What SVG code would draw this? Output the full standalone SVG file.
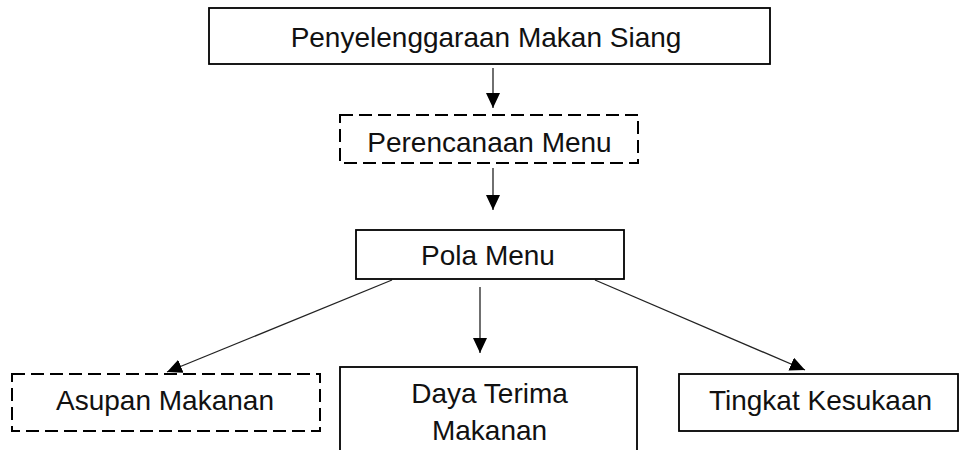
<svg xmlns="http://www.w3.org/2000/svg" width="960" height="450" viewBox="0 0 960 450">
<defs>
<marker id="ah" markerUnits="userSpaceOnUse" markerWidth="16" markerHeight="16" viewBox="0 0 16 16" refX="15" refY="7" orient="auto">
<path d="M0,0 L15,7 L0,14 Z" fill="#000"/>
</marker>
</defs>
<style>
.box{fill:#fff;stroke:#000;stroke-width:1.8}
.dash{fill:#fff;stroke:#000;stroke-width:2;stroke-dasharray:13 6}
.lbl{font-family:"Liberation Sans",Arial,sans-serif;font-size:28px;fill:#111;text-anchor:middle}
.con{stroke:#222;stroke-width:1.3;fill:none;marker-end:url(#ah)}
</style>
<rect width="960" height="450" fill="#fff"/>
<g id="connectors">
<line class="con" x1="493" y1="68" x2="493" y2="108"/>
<line class="con" x1="493" y1="168" x2="493" y2="210"/>
<line class="con" x1="392" y1="280" x2="167" y2="372"/>
<line class="con" x1="480" y1="287" x2="480" y2="353"/>
<line class="con" x1="595" y1="280" x2="805" y2="370"/>
</g>
<g id="node-penyelenggaraan">
<rect class="box" x="209" y="8" width="561" height="56"/>
<text class="lbl" x="486" y="47">Penyelenggaraan Makan Siang</text>
</g>
<g id="node-perencanaan">
<rect class="dash" x="340" y="115" width="298" height="48"/>
<text class="lbl" x="489.5" y="152">Perencanaan Menu</text>
</g>
<g id="node-pola">
<rect class="box" x="356" y="230" width="268" height="49"/>
<text class="lbl" x="488" y="265">Pola Menu</text>
</g>
<g id="node-asupan">
<rect class="dash" x="12" y="374" width="308" height="57"/>
<text class="lbl" x="165" y="410">Asupan Makanan</text>
</g>
<g id="node-daya">
<rect class="box" x="340" y="367" width="297" height="100"/>
<text class="lbl" x="489.5" y="403">Daya Terima</text>
<text class="lbl" x="489.5" y="440">Makanan</text>
</g>
<g id="node-tingkat">
<rect class="box" x="679" y="374" width="279" height="57"/>
<text class="lbl" x="820.5" y="410">Tingkat Kesukaan</text>
</g>
</svg>
